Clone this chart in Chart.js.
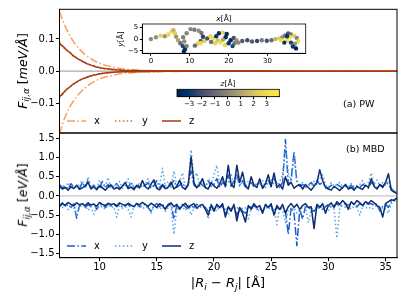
<!DOCTYPE html>
<html>
<head>
<meta charset="utf-8">
<script src="https://cdn.jsdelivr.net/npm/chart.js@4.4.0/dist/chart.umd.min.js"></script>
<style>
  body { margin: 0; background: #fff; width: 407px; height: 305px; overflow: hidden; position: relative; font-family: 'DejaVu Sans', sans-serif; color: #000; }
  canvas { position: absolute; }
  .lbl { position: absolute; white-space: nowrap; line-height: 1; }
  .rot { transform: translate(-50%, -50%) rotate(-90deg); }
  .ctr { transform: translate(-50%, -50%); }
  .mid { transform: translate(0, -50%); }
  sub { font-size: 70%; vertical-align: -0.3em; }
</style>
</head>
<body>
<canvas id="pw" width="407" height="136" style="left:0;top:0"></canvas>
<canvas id="mbd" width="407" height="185" style="left:0;top:120px"></canvas>
<canvas id="inset" width="205" height="55" style="left:110px;top:10px"></canvas>
<canvas id="cbar" width="140" height="35" style="left:160px;top:80px"></canvas>

<div class="lbl rot" style="left:24px;top:71px;font-size:12.5px"><i>F</i><sub><i>ij,α</i></sub> [<i>meV/Å</i>]</div>
<div class="lbl rot" style="left:24px;top:195px;font-size:12.5px"><i>F</i><sub><i>ij,α</i></sub> [<i>eV/Å</i>]</div>
<div class="lbl ctr" style="left:228px;top:284px;font-size:13px">|<i>R</i><sub><i>i</i></sub> − <i>R</i><sub><i>j</i></sub>| [Å]</div>
<div class="lbl mid" style="left:343px;top:104px;font-size:9.5px">(a) PW</div>
<div class="lbl mid" style="left:346px;top:149px;font-size:9.5px">(b) MBD</div>
<div class="lbl ctr" style="left:224px;top:19px;font-size:7.5px"><i>x</i>[Å]</div>
<div class="lbl rot" style="left:121px;top:39px;font-size:7.5px"><i>y</i>[Å]</div>
<div class="lbl ctr" style="left:228px;top:84px;font-size:7.5px"><i>z</i>[Å]</div>

<script>
Chart.defaults.font.family = "'DejaVu Sans', sans-serif";
Chart.defaults.font.size = 10;
Chart.defaults.color = '#000';
Chart.defaults.animation = false;

const seriesNames = ['x', 'y', 'z'];

// (a) PW, meV/Å
const pwR = [6.5,6.7,6.9,7.1,7.3,7.5,7.7,7.9,8.1,8.3,8.5,8.7,8.9,9.1,9.3,9.5,9.7,9.9,10.1,10.5,11,11.5,12,13,14,16,18,20,24,28,32,36];
const pwXPos = [0.185,0.165,0.147,0.131,0.117,0.104,0.093,0.083,0.074,0.066,0.059,0.052,0.047,0.042,0.037,0.033,0.029,0.026,0.023,0.018,0.014,0.010,0.007,0.004,0.002,0.001,0.0005,0.0003,0.0001,0,0,0];
const pwXNeg = [-0.195,-0.170,-0.150,-0.133,-0.118,-0.105,-0.094,-0.084,-0.075,-0.067,-0.059,-0.053,-0.047,-0.042,-0.037,-0.033,-0.029,-0.026,-0.023,-0.018,-0.014,-0.010,-0.007,-0.004,-0.002,-0.001,-0.0005,-0.0003,-0.0001,0,0,0];
const pwYPos = [0.092,0.078,0.071,0.068,0.058,0.056,0.049,0.042,0.040,0.033,0.031,0.026,0.024,0.020,0.019,0.015,0.014,0.011,0.010,0.007,0.005,0.004,0.003,0.0015,0.001,0.0005,0.0003,0.0002,0.0001,0,0,0];
const pwYNeg = [-0.082,-0.071,-0.067,-0.059,-0.050,-0.047,-0.041,-0.035,-0.033,-0.027,-0.025,-0.021,-0.020,-0.017,-0.014,-0.013,-0.010,-0.009,-0.008,-0.006,-0.004,-0.003,-0.002,-0.001,-0.001,-0.0005,-0.0003,-0.0002,-0.0001,0,0,0];
const pwZPos = [0.086,0.080,0.074,0.066,0.061,0.055,0.047,0.044,0.038,0.035,0.030,0.027,0.023,0.021,0.018,0.016,0.013,0.012,0.010,0.008,0.006,0.004,0.003,0.002,0.001,0.0005,0.0003,0.0002,0.0001,0,0,0];
const pwZNeg = [-0.078,-0.074,-0.065,-0.057,-0.052,-0.046,-0.040,-0.036,-0.031,-0.028,-0.024,-0.022,-0.019,-0.016,-0.014,-0.012,-0.011,-0.009,-0.008,-0.006,-0.004,-0.003,-0.002,-0.0015,-0.001,-0.0005,-0.0003,-0.0002,-0.0001,0,0,0];

// (b) MBD, eV/Å
const mbdR = [6.5,6.75,7,7.25,7.5,7.75,8,8.25,8.5,8.75,
  9,9.25,9.5,9.75,10,10.25,10.5,10.75,11,11.25,
  11.5,11.75,12,12.25,12.5,12.75,13,13.25,13.5,13.75,
  14,14.25,14.5,14.75,15,15.25,15.5,15.75,16,16.25,
  16.5,16.75,17,17.25,17.5,17.75,18,18.25,18.5,18.75,
  19,19.25,19.5,19.75,20,20.25,20.5,20.75,21,21.25,
  21.5,21.75,22,22.25,22.5,22.75,23,23.25,23.5,23.75,
  24,24.25,24.5,24.75,25,25.25,25.5,25.75,26,26.25,
  26.5,26.75,27,27.25,27.5,27.75,28,28.25,28.5,28.75,
  29,29.25,29.5,29.75,30,30.25,30.5,30.75,31,31.25,
  31.5,31.75,32,32.25,32.5,32.75,33,33.25,33.5,33.75,
  34,34.25,34.5,34.75,35,35.25,35.5,35.75,36];
const mbdXPos = [0.30,0.20,0.26,0.18,0.32,0.22,0.25,0.19,0.35,0.22,
  0.42,0.20,0.28,0.24,0.19,0.38,0.22,0.30,0.20,0.27,
  0.32,0.21,0.26,0.30,0.22,0.36,0.20,0.25,0.30,0.22,
  0.28,0.34,0.20,0.26,0.40,0.22,0.30,0.24,0.19,0.30,
  0.40,0.22,0.28,0.35,0.20,0.30,0.65,0.28,0.22,0.35,
  0.28,0.22,0.40,0.25,0.30,0.45,0.22,0.35,0.28,0.55,
  0.25,0.40,0.55,0.28,0.40,0.22,0.30,0.35,0.25,0.30,
  0.35,0.22,0.28,0.40,0.25,0.45,0.30,0.22,0.35,1.47,
  0.30,0.45,1.15,0.35,0.25,0.30,0.22,0.28,0.35,0.25,
  0.40,0.30,0.35,0.25,0.20,0.28,0.22,0.30,0.25,0.20,
  0.25,0.22,0.28,0.20,0.26,0.22,0.30,0.25,0.20,0.35,
  0.28,0.22,0.30,0.25,0.35,0.30,0.18,0.12,0.07];
const mbdXNeg = [-0.25,-0.18,-0.28,-0.22,-0.30,-0.20,-0.58,-0.25,-0.20,-0.30,
  -0.22,-0.28,-0.20,-0.35,-0.24,-0.22,-0.30,-0.20,-0.26,-0.22,
  -0.28,-0.20,-0.30,-0.24,-0.22,-0.30,-0.25,-0.20,-0.28,-0.24,
  -0.22,-0.30,-0.40,-0.25,-0.20,-0.28,-0.22,-0.30,-0.26,-0.20,
  -0.60,-0.25,-0.30,-0.22,-0.28,-0.35,-0.25,-0.30,-0.22,-0.28,
  -0.25,-0.30,-0.40,-0.22,-0.35,-0.28,-0.30,-0.25,-0.45,-0.30,
  -0.35,-0.28,-0.50,-0.30,-0.40,-0.45,-0.28,-0.30,-0.25,-0.35,
  -0.30,-0.40,-0.28,-0.30,-0.25,-0.45,-0.30,-0.35,-0.28,-0.40,
  -1.00,-0.30,-0.45,-1.30,-0.35,-0.60,-0.28,-0.30,-0.35,-0.40,
  -0.30,-0.25,-0.35,-0.28,-0.22,-0.30,-0.25,-0.20,-0.28,-0.22,
  -0.20,-0.25,-0.18,-0.22,-0.28,-0.20,-0.25,-0.18,-0.22,-0.20,
  -0.25,-0.20,-0.40,-0.28,-0.22,-0.30,-0.15,-0.10,-0.06];
const mbdYPos = [0.22,0.28,0.20,0.35,0.18,0.26,0.22,0.30,0.40,0.20,
  0.50,0.23,0.30,0.18,0.42,0.22,0.26,0.48,0.20,0.30,
  0.24,0.38,0.20,0.28,0.45,0.22,0.30,0.19,0.35,0.25,
  0.30,0.45,0.22,0.35,0.20,0.28,0.72,0.25,0.38,0.22,
  0.65,0.28,0.35,0.60,0.22,0.30,1.20,0.45,0.60,0.25,
  0.38,0.22,0.45,0.30,0.55,0.80,0.28,0.40,0.25,0.35,
  0.55,0.30,0.45,0.25,0.38,0.22,0.40,0.30,0.25,0.35,
  0.28,0.40,0.22,0.35,0.45,0.30,0.25,0.38,0.55,1.30,
  0.60,0.35,1.00,0.40,0.28,0.35,0.22,0.30,0.25,0.38,
  0.30,0.45,0.55,0.28,0.22,0.35,0.25,0.30,0.35,0.22,
  0.28,0.20,0.32,0.25,0.22,0.30,0.40,0.25,0.35,0.60,
  0.30,0.42,0.25,0.35,0.28,0.40,0.20,0.15,0.08];
const mbdYNeg = [-0.22,-0.30,-0.25,-0.35,-0.28,-0.30,-0.50,-0.24,-0.30,-0.26,
  -0.38,-0.28,-0.48,-0.25,-0.32,-0.27,-0.35,-0.24,-0.30,-0.28,
  -0.55,-0.26,-0.32,-0.28,-0.35,-0.55,-0.27,-0.30,-0.25,-0.34,
  -0.28,-0.32,-0.45,-0.26,-0.30,-0.35,-0.28,-0.40,-0.30,-0.26,
  -1.00,-0.35,-0.30,-0.28,-0.38,-0.25,-0.50,-0.30,-0.35,-0.28,
  -0.32,-0.28,-0.60,-0.35,-0.30,-0.40,-0.28,-0.35,-0.30,-0.50,
  -0.30,-0.35,-0.28,-0.40,-0.32,-0.30,-0.60,-0.35,-0.28,-0.32,
  -0.40,-0.30,-0.35,-0.28,-0.38,-0.32,-0.75,-0.30,-0.35,-0.70,
  -0.35,-0.40,-0.30,-0.45,-0.35,-0.30,-0.28,-0.70,-0.35,-0.30,
  -0.28,-0.35,-0.25,-0.30,-0.40,-0.28,-0.35,-1.10,-0.30,-0.25,
  -0.30,-0.25,-0.35,-0.28,-0.30,-0.50,-0.25,-0.32,-0.28,-0.35,
  -0.30,-0.25,-0.40,-0.30,-0.35,-0.45,-0.20,-0.15,-0.08];
const mbdZPos = [0.25,0.18,0.22,0.15,0.24,0.19,0.28,0.17,0.21,0.26,
  0.35,0.18,0.24,0.16,0.27,0.21,0.15,0.23,0.29,0.18,
  0.22,0.17,0.26,0.35,0.19,0.23,0.16,0.28,0.21,0.40,
  0.24,0.18,0.31,0.42,0.20,0.16,0.27,0.19,0.23,0.36,
  0.18,0.25,0.41,0.22,0.17,0.28,1.02,0.35,0.21,0.30,
  0.45,0.22,0.18,0.35,0.26,0.20,0.31,0.50,0.24,0.80,
  0.30,0.22,0.80,0.35,0.62,0.25,0.18,0.50,0.28,0.22,
  0.45,0.20,0.32,0.55,0.24,0.60,0.22,0.30,0.18,0.50,
  0.28,0.35,0.20,0.26,0.30,0.18,0.30,0.22,0.15,0.25,
  0.35,0.68,0.40,0.22,0.18,0.15,0.25,0.20,0.14,0.22,
  0.30,0.18,0.22,0.15,0.25,0.20,0.17,0.28,0.22,0.45,
  0.25,0.18,0.30,0.22,0.35,0.58,0.15,0.10,0.06];
const mbdZNeg = [-0.28,-0.20,-0.24,-0.17,-0.22,-0.26,-0.18,-0.23,-0.20,-0.25,
  -0.18,-0.24,-0.21,-0.27,-0.17,-0.22,-0.25,-0.19,-0.23,-0.20,
  -0.26,-0.18,-0.22,-0.25,-0.19,-0.24,-0.28,-0.20,-0.23,-0.17,
  -0.22,-0.27,-0.19,-0.24,-0.30,-0.20,-0.25,-0.35,-0.22,-0.18,
  -0.28,-0.22,-0.35,-0.25,-0.19,-0.30,-0.24,-0.20,-0.32,-0.25,
  -0.22,-0.35,-0.50,-0.25,-0.40,-0.22,-0.30,-0.20,-0.55,-0.28,
  -0.40,-0.22,-0.65,-0.30,-0.45,-0.68,-0.25,-0.35,-0.20,-0.30,
  -0.25,-0.45,-0.22,-0.30,-0.20,-0.50,-0.25,-0.35,-0.22,-0.45,
  -0.28,-0.20,-0.30,-0.22,-0.35,-0.25,-0.20,-0.30,-0.28,-0.85,
  -0.22,-0.30,-0.20,-0.45,-0.25,-0.18,-0.30,-0.15,-0.22,-0.12,
  -0.20,-0.35,-0.15,-0.22,-0.12,-0.18,-0.25,-0.15,-0.20,-0.12,
  -0.18,-0.25,-0.30,-0.55,-0.20,-0.15,-0.10,-0.12,-0.05];

const pwTicks = [-0.1, 0, 0.1];
const mbdTicks = [-1.5, -1, -0.5, 0, 0.5, 1, 1.5];
const rTicks = [10, 15, 20, 25, 30, 35];

// inset: the chain, coloured by z
const chainX = [0,1.3,2.5,3.6,4.5,5.3,5.8,6.2,6.5,7.0,7.6,8.2,8.8,8.5,9.2,8.6,8.3,9.2,10.2,11.2,
  12.3,13.0,13.4,12.8,12.0,11.3,12.8,13.8,14.5,15.3,16.0,15.5,16.5,17.2,16.8,17.5,18.5,19.5,19.2,18.5,
  17.8,19.0,20.0,20.5,21.3,22.0,21.5,21.0,22.5,23.5,24.8,26.0,27.3,28.5,29.8,31.0,32.0,33.0,33.8,34.5,
  35.3,36.0,36.8,37.5,37.8,37.0,36.5,37.3,36.0,35.0,34.3,33.5,35.8,35.0];
const chainY = [0,0.8,1.5,1.2,2.0,3.3,3.8,2.5,1.0,-0.5,-1.8,-3.0,-4.2,-5.2,-3.0,-1.0,0.8,2.5,4.3,4.0,
  3.6,2.6,1.0,-0.8,-2.0,-2.8,-1.8,-0.8,0.3,1.2,0.3,-1.2,-1.8,-0.5,1.2,2.5,2.8,2.2,0.8,-0.3,
  -1.5,-2.5,-1.8,-0.5,0.5,-0.5,-1.8,-3.0,-1.5,-0.8,-0.5,-1.0,-0.8,-0.5,-0.7,-0.5,0.0,0.3,0.8,1.6,
  2.4,2.0,1.5,0.5,-1.0,-2.0,-3.2,-4.0,-1.5,-0.5,-1.5,-0.5,0.8,1.2];
const chainZ = [0,0.3,2.5,0.5,2.8,3.0,1.5,2.5,0.5,1.0,-1.0,-2.5,-3.0,-3.5,-0.5,0.2,-0.3,0.0,0.0,-0.5,
  0.3,-0.8,-2.5,-1.5,2.5,-1.0,3.0,2.5,-2.0,2.8,3.0,-1.0,2.5,2.0,-3.0,-3.5,2.5,-3.5,-3.8,1.0,
  3.0,2.8,-3.0,-3.5,-2.0,0.5,-0.5,-2.5,0.0,-1.5,-2.0,-1.5,-2.2,-0.5,-2.0,-1.0,1.5,2.5,0.3,-0.5,
  -2.0,-0.8,2.5,0.0,2.8,0.5,-3.0,-3.8,-2.5,3.2,-3.0,3.0,3.5,-3.0];
const insetXTicks = [0, 10, 20, 30];
const insetYTicks = [-5, 0, 5];
const zTicks = [-3, -2, -1, 0, 1, 2, 3];
const zRange = [-3.93, 3.97];

const cividisStops = ['#00204c','#01356e','#3c4a6c','#5f636e','#7c7b78','#9b9377','#bcae6d','#dcc95f','#f3dd4c','#ffea46'];

function hexRgb(h) { return [1, 3, 5].map(i => parseInt(h.substr(i, 2), 16)); }
function cividis(t) {
  t = Math.max(0, Math.min(1, t)) * (cividisStops.length - 1);
  const i = Math.min(Math.floor(t), cividisStops.length - 2), f = t - i;
  const a = hexRgb(cividisStops[i]), b = hexRgb(cividisStops[i + 1]);
  const c = a.map((v, k) => Math.round(v + (b[k] - v) * f));
  return 'rgb(' + c.join(',') + ')';
}
const minus = s => String(s).replace('-', '\u2212');
const pts = (xs, ys) => xs.map((x, i) => ({ x: x, y: ys[i] }));

// box around the axes + zero line
const framePlugin = {
  id: 'frame',
  beforeDraw(chart, args, opts) {
    if (!opts.fill) return;
    const a = chart.chartArea, ctx = chart.ctx;
    ctx.save(); ctx.fillStyle = opts.fill;
    ctx.fillRect(a.left, a.top, a.width, a.height); ctx.restore();
  },
  beforeDatasetsDraw(chart, args, opts) {
    if (!opts.zero) return;
    const a = chart.chartArea, ctx = chart.ctx;
    const y = chart.scales.y.getPixelForValue(0);
    ctx.save(); ctx.strokeStyle = opts.zero; ctx.lineWidth = 1.2;
    ctx.beginPath(); ctx.moveTo(a.left, y); ctx.lineTo(a.right, y); ctx.stroke(); ctx.restore();
  },
  afterDraw(chart, args, opts) {
    const a = chart.chartArea, ctx = chart.ctx;
    ctx.save(); ctx.strokeStyle = '#000'; ctx.lineWidth = opts.width || 1;
    ctx.strokeRect(a.left, a.top, a.width, a.height); ctx.restore();
  }
};

// legend of line samples inside the axes
const lineLegend = {
  id: 'lineLegend',
  afterDatasetsDraw(chart, args, opts) {
    if (!opts.y) return;
    const ctx = chart.ctx, a = chart.chartArea;
    const y = a.top + opts.y;
    const order = seriesNames.map(n => chart.data.datasets.find(d => d.label === n));
    order.forEach((ds, k) => {
      const x1 = a.left + opts.x[k], x2 = x1 + 19;
      ctx.save();
      ctx.strokeStyle = ds.borderColor; ctx.lineWidth = ds.borderWidth;
      ctx.setLineDash(ds.borderDash || []);
      ctx.beginPath(); ctx.moveTo(x1, y); ctx.lineTo(x2, y); ctx.stroke();
      ctx.restore();
      ctx.fillStyle = '#000'; ctx.font = "10px 'DejaVu Sans'"; ctx.textBaseline = 'middle';
      ctx.fillText(ds.label, x2 + 8, y);
    });
  }
};

const dashDot = [8, 2.4, 1.5, 2.4];
const dotted = [1.5, 2.4];

function lineSet(label, xs, ys, color, dash, width, order) {
  return { label: label, data: pts(xs, ys), borderColor: color, borderWidth: width, borderDash: dash,
    pointRadius: 0, tension: 0, fill: false, order: order, borderJoinStyle: 'round' };
}

function yAxis(min, max, ticks, width) {
  return {
    min: min, max: max,
    afterBuildTicks: s => { s.ticks = ticks.map(v => ({ value: v })); },
    afterFit: s => { s.width = width; s.paddingTop = 0; s.paddingBottom = 0; },
    grid: { drawOnChartArea: false, color: '#000', tickLength: 3.5 },
    border: { color: '#000' },
    ticks: { padding: 1.5, callback: v => minus(v.toFixed(1)) }
  };
}

const pwColors = ['#f9a05c', '#e8652a', '#a33c10'];
new Chart(document.getElementById('pw'), {
  type: 'line',
  data: {
    datasets: [
      lineSet('x', pwR, pwXPos, pwColors[0], dashDot, 1.5, 2),
      lineSet('x+', pwR, pwXNeg, pwColors[0], dashDot, 1.5, 2),
      lineSet('y', pwR, pwYPos, pwColors[1], dotted, 1.5, 1),
      lineSet('y+', pwR, pwYNeg, pwColors[1], dotted, 1.5, 1),
      lineSet('z', pwR, pwZPos, pwColors[2], [], 1.5, 0),
      lineSet('z+', pwR, pwZNeg, pwColors[2], [], 1.5, 0)
    ]
  },
  options: {
    responsive: false, devicePixelRatio: 1,
    layout: { padding: { top: 9.3, right: 10, bottom: 3, left: 0 } },
    plugins: { legend: { display: false }, tooltip: { enabled: false },
      frame: { zero: '#aaaaaa' }, lineLegend: { y: 111.7, x: [7.5, 55.5, 102.5] } },
    scales: {
      x: { type: 'linear', min: 6.5, max: 36, display: false },
      y: yAxis(-0.192, 0.192, pwTicks, 59.5)
    }
  },
  plugins: [framePlugin, lineLegend]
});

const mbdColors = ['#1f5cd1', '#55a6e8', '#0e2d6e'];
new Chart(document.getElementById('mbd'), {
  type: 'line',
  data: {
    datasets: [
      lineSet('x', mbdR, mbdXPos, mbdColors[0], dashDot, 1.5, 2),
      lineSet('x+', mbdR, mbdXNeg, mbdColors[0], dashDot, 1.5, 2),
      lineSet('y', mbdR, mbdYPos, mbdColors[1], dotted, 1.5, 1),
      lineSet('y+', mbdR, mbdYNeg, mbdColors[1], dotted, 1.5, 1),
      lineSet('z', mbdR, mbdZPos, mbdColors[2], [], 1.5, 0),
      lineSet('z+', mbdR, mbdZNeg, mbdColors[2], [], 1.5, 0)
    ]
  },
  options: {
    responsive: false, devicePixelRatio: 1,
    layout: { padding: { top: 13, right: 10, bottom: 27.3, left: 0 } },
    plugins: { legend: { display: false }, tooltip: { enabled: false },
      frame: { zero: '#c4c4c4' }, lineLegend: { y: 113, x: [7.5, 55.5, 102.5] } },
    scales: {
      x: {
        type: 'linear', min: 6.5, max: 36,
        afterBuildTicks: s => { s.ticks = rTicks.map(v => ({ value: v })); },
        afterFit: s => { s.height = 20; s.paddingLeft = 0; s.paddingRight = 0; },
        grid: { drawOnChartArea: false, color: '#000', tickLength: 3.5 },
        border: { color: '#000' },
        ticks: { padding: 0, maxRotation: 0 }
      },
      y: yAxis(-1.61, 1.64, mbdTicks, 59.5)
    }
  },
  plugins: [framePlugin, lineLegend]
});

const small = { size: 7 };
new Chart(document.getElementById('inset'), {
  type: 'scatter',
  data: {
    datasets: [{
      data: pts(chainX, chainY),
      pointBackgroundColor: chainZ.map(z => cividis((z - zRange[0]) / (zRange[1] - zRange[0]))),
      pointBorderWidth: 0, pointRadius: 2.2
    }]
  },
  options: {
    responsive: false, devicePixelRatio: 1,
    layout: { padding: { top: 14, right: 9.3, bottom: 1.7, left: 0 } },
    plugins: { legend: { display: false }, tooltip: { enabled: false }, frame: { fill: '#fff', width: 0.8 } },
    scales: {
      x: {
        type: 'linear', min: -2.2, max: 39.8,
        afterBuildTicks: s => { s.ticks = insetXTicks.map(v => ({ value: v })); },
        afterFit: s => { s.height = 10; s.paddingLeft = 0; s.paddingRight = 0; },
        grid: { drawOnChartArea: false, color: '#000', tickLength: 2.5 },
        border: { color: '#000' },
        ticks: { padding: 1, font: small, maxRotation: 0 }
      },
      y: {
        min: -6.1, max: 6.5,
        afterBuildTicks: s => { s.ticks = insetYTicks.map(v => ({ value: v })); },
        afterFit: s => { s.width = 32.3; s.paddingTop = 0; s.paddingBottom = 0; },
        grid: { drawOnChartArea: false, color: '#000', tickLength: 2.5 },
        border: { color: '#000' },
        ticks: { padding: 1.5, font: small, callback: v => minus(v) }
      }
    }
  },
  plugins: [framePlugin]
});

const gradientPlugin = {
  id: 'gradient',
  beforeDatasetsDraw(chart) {
    const a = chart.chartArea, ctx = chart.ctx, s = chart.scales.x;
    const x0 = s.getPixelForValue(zRange[0]), x1 = s.getPixelForValue(zRange[1]);
    const g = ctx.createLinearGradient(x0, 0, x1, 0);
    cividisStops.forEach((c, i) => g.addColorStop(i / (cividisStops.length - 1), c));
    ctx.save(); ctx.fillStyle = g; ctx.fillRect(a.left, a.top, a.width, a.height); ctx.restore();
  }
};
new Chart(document.getElementById('cbar'), {
  type: 'scatter',
  data: { datasets: [{ data: [] }] },
  options: {
    responsive: false, devicePixelRatio: 1,
    layout: { padding: { top: 9.3, right: 20.7, bottom: 6.3, left: 17 } },
    plugins: { legend: { display: false }, tooltip: { enabled: false }, frame: { width: 0.8 } },
    scales: {
      x: {
        type: 'linear', min: zRange[0], max: zRange[1],
        afterBuildTicks: s => { s.ticks = zTicks.map(v => ({ value: v })); },
        afterFit: s => { s.height = 12; s.paddingLeft = 0; s.paddingRight = 0; },
        grid: { drawOnChartArea: false, color: '#000', tickLength: 2.5 },
        border: { color: '#000' },
        ticks: { padding: 1, font: small, maxRotation: 0, callback: v => minus(v) }
      },
      y: { min: 0, max: 1, display: false }
    }
  },
  plugins: [framePlugin, gradientPlugin]
});
</script>
</body>
</html>
